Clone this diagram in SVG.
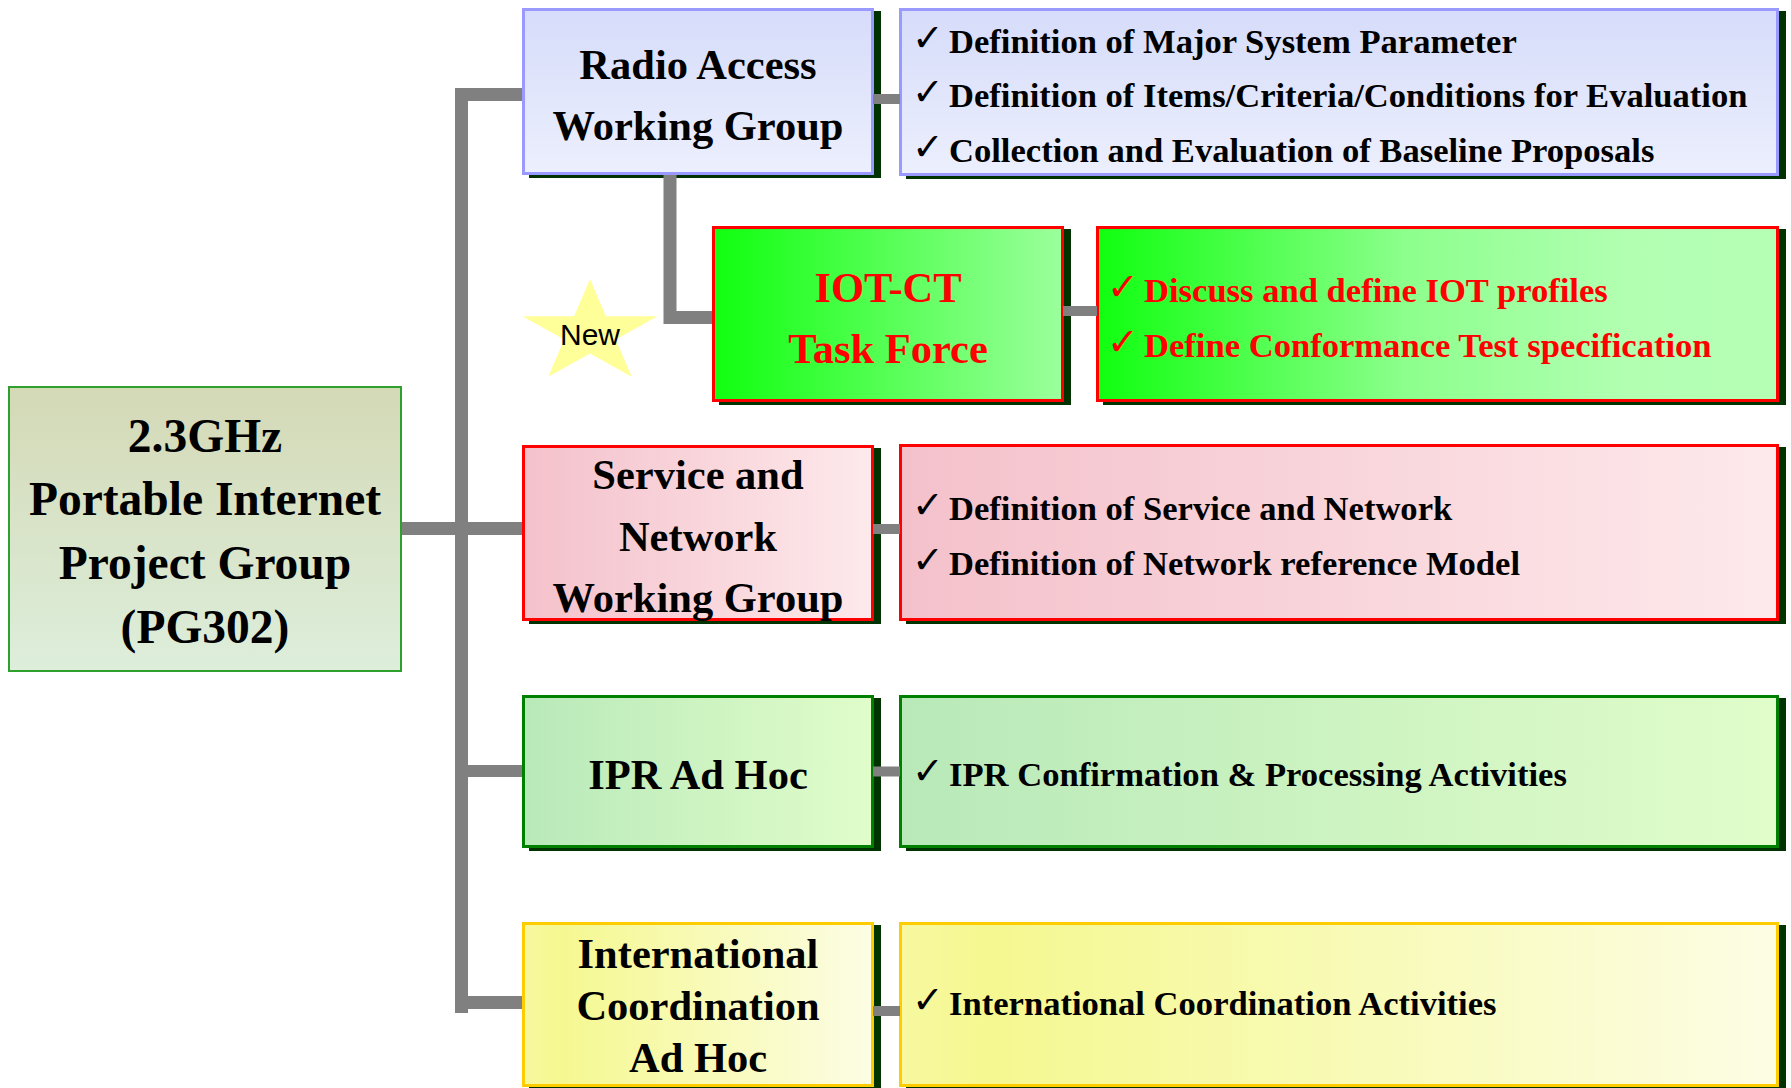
<svg xmlns="http://www.w3.org/2000/svg" width="1791" height="1088" viewBox="0 0 1791 1088">
<style>
.t{font-family:"Liberation Serif","Times New Roman",serif;font-weight:bold;fill:#000}
.title{font-size:42.5px;text-anchor:middle}
.main{font-size:47.5px;text-anchor:middle}
.item{font-size:34.6px}
.chk{font-family:"DejaVu Sans",sans-serif;font-weight:normal;font-size:38px}
.red{fill:#FF0000}
.shadow{fill:#003300}
.conn{fill:none;stroke:#808080;stroke-linejoin:miter;stroke-linecap:butt}
</style>
<defs>
<linearGradient id="gBlue" x1="0" y1="0" x2="0" y2="1"><stop offset="0" stop-color="#D6DCFA"/><stop offset="1" stop-color="#ECEFFD"/></linearGradient>
<linearGradient id="gMain" x1="0" y1="0" x2="0" y2="1"><stop offset="0" stop-color="#D4D9B6"/><stop offset="1" stop-color="#DDEEDB"/></linearGradient>
<linearGradient id="gIotL" x1="0" y1="0" x2="1" y2="0"><stop offset="0" stop-color="#10FF10"/><stop offset="1" stop-color="#9CFF9C"/></linearGradient>
<linearGradient id="gIotR" x1="0" y1="0" x2="1" y2="0"><stop offset="0" stop-color="#10FF10"/><stop offset="0.45" stop-color="#8CFF8C"/><stop offset="0.78" stop-color="#B2FFB2"/><stop offset="1" stop-color="#B5FFB5"/></linearGradient>
<linearGradient id="gPink" x1="0" y1="0" x2="1" y2="0"><stop offset="0" stop-color="#F4C1CB"/><stop offset="1" stop-color="#FDE9EB"/></linearGradient>
<linearGradient id="gGreen" x1="0" y1="0" x2="1" y2="0"><stop offset="0" stop-color="#B9E9B9"/><stop offset="1" stop-color="#E0FDCA"/></linearGradient>
<linearGradient id="gYellow" x1="0" y1="0" x2="1" y2="0"><stop offset="0" stop-color="#F7F8A0"/><stop offset="0.1" stop-color="#F5F890"/><stop offset="1" stop-color="#FCFDE4"/></linearGradient>
</defs>

<g id="pg302">
<rect x="9" y="387" width="392" height="284" fill="url(#gMain)" stroke="#2EA02E" stroke-width="2"/>
<text class="t main"><tspan x="205" y="452">2.3GHz</tspan><tspan x="205" y="515">Portable Internet</tspan><tspan x="205" y="579">Project Group</tspan><tspan x="205" y="643">(PG302)</tspan></text>
</g>

<g id="radio-wg">
<rect class="shadow" x="529" y="11" width="352" height="167"/>
<rect x="523.5" y="9.5" width="349" height="164" fill="url(#gBlue)" stroke="#9999FF" stroke-width="3"/>
<text class="t title"><tspan x="698" y="79">Radio Access</tspan><tspan x="698" y="140">Working Group</tspan></text>
</g>
<g id="radio-items">
<rect class="shadow" x="906" y="11" width="880" height="168"/>
<rect x="900.5" y="9.5" width="877" height="165" fill="url(#gBlue)" stroke="#9999FF" stroke-width="3"/>
<text class="t item"><tspan class="chk" x="912" y="51">✓</tspan><tspan x="949" y="53">Definition of Major System Parameter</tspan></text>
<text class="t item"><tspan class="chk" x="912" y="105">✓</tspan><tspan x="949" y="107">Definition of Items/Criteria/Conditions for Evaluation</tspan></text>
<text class="t item"><tspan class="chk" x="912" y="160">✓</tspan><tspan x="949" y="162">Collection and Evaluation of Baseline Proposals</tspan></text>
</g>

<g id="new-star">
<polygon points="590,279 605.9,316.3 657.5,316.3 615.8,339.4 631.7,376.7 590,353.6 548.3,376.7 564.2,339.4 522.5,316.3 574.1,316.3" fill="#FFFF99"/>
<text x="590" y="345" font-family="'Liberation Sans',Arial,sans-serif" font-size="30" text-anchor="middle" fill="#000">New</text>
</g>

<g id="iot-ct">
<rect class="shadow" x="719" y="229" width="352" height="176"/>
<rect x="713.5" y="227.5" width="349" height="173" fill="url(#gIotL)" stroke="#FF0000" stroke-width="3"/>
<text class="t title red"><tspan x="888" y="302">IOT-CT</tspan><tspan x="888" y="363">Task Force</tspan></text>
</g>
<g id="iot-items">
<rect class="shadow" x="1103" y="229" width="683" height="176"/>
<rect x="1097.5" y="227.5" width="680" height="173" fill="url(#gIotR)" stroke="#FF0000" stroke-width="3"/>
<text class="t item red"><tspan class="chk red" x="1107" y="300">✓</tspan><tspan x="1144" y="302">Discuss and define IOT profiles</tspan></text>
<text class="t item red"><tspan class="chk red" x="1107" y="355">✓</tspan><tspan x="1144" y="357">Define Conformance Test specification</tspan></text>
</g>

<g id="service-wg">
<rect class="shadow" x="529" y="448" width="352" height="176"/>
<rect x="523.5" y="446.5" width="349" height="173" fill="url(#gPink)" stroke="#FF0000" stroke-width="3"/>
<text class="t title"><tspan x="698" y="489">Service and</tspan><tspan x="698" y="551">Network</tspan><tspan x="698" y="612">Working Group</tspan></text>
</g>
<g id="service-items">
<rect class="shadow" x="906" y="447" width="880" height="177"/>
<rect x="900.5" y="445.5" width="877" height="174" fill="url(#gPink)" stroke="#FF0000" stroke-width="3"/>
<text class="t item"><tspan class="chk" x="912" y="518">✓</tspan><tspan x="949" y="520">Definition of Service and Network</tspan></text>
<text class="t item"><tspan class="chk" x="912" y="573">✓</tspan><tspan x="949" y="575">Definition of Network reference Model</tspan></text>
</g>

<g id="ipr-adhoc">
<rect class="shadow" x="529" y="698" width="352" height="153"/>
<rect x="523.5" y="696.5" width="349" height="150" fill="url(#gGreen)" stroke="#008000" stroke-width="3"/>
<text class="t title" x="698" y="789">IPR Ad Hoc</text>
</g>
<g id="ipr-items">
<rect class="shadow" x="906" y="698" width="880" height="153"/>
<rect x="900.5" y="696.5" width="877" height="150" fill="url(#gGreen)" stroke="#008000" stroke-width="3"/>
<text class="t item"><tspan class="chk" x="912" y="784">✓</tspan><tspan x="949" y="786">IPR Confirmation &amp; Processing Activities</tspan></text>
</g>

<g id="intl-adhoc">
<rect class="shadow" x="529" y="925" width="352" height="170"/>
<rect x="523.5" y="923.5" width="349" height="162" fill="url(#gYellow)" stroke="#FFCC00" stroke-width="3"/>
<text class="t title"><tspan x="698" y="968">International</tspan><tspan x="698" y="1020">Coordination</tspan><tspan x="698" y="1072">Ad Hoc</tspan></text>
</g>
<g id="intl-items">
<rect class="shadow" x="906" y="925" width="880" height="170"/>
<rect x="900.5" y="923.5" width="877" height="162" fill="url(#gYellow)" stroke="#FFCC00" stroke-width="3"/>
<text class="t item"><tspan class="chk" x="912" y="1013">✓</tspan><tspan x="949" y="1015">International Coordination Activities</tspan></text>
</g>

<g id="connectors">
<path class="conn" stroke-width="13" d="M522,94.5 H461.5 V1013"/>
<path class="conn" stroke-width="13" d="M402,528.5 H522"/>
<path class="conn" stroke-width="12" d="M461.5,771 H522"/>
<path class="conn" stroke-width="13" d="M461.5,1002.5 H522"/>
<path class="conn" stroke-width="13" d="M670,175 V317.5 H712"/>
<path class="conn" stroke-width="10" d="M873,99 H900"/>
<path class="conn" stroke-width="10" d="M1063,311 H1097"/>
<path class="conn" stroke-width="10" d="M873,529 H900"/>
<path class="conn" stroke-width="10" d="M873,771.5 H900"/>
<path class="conn" stroke-width="10" d="M873,1011 H900"/>
</g>
</svg>
